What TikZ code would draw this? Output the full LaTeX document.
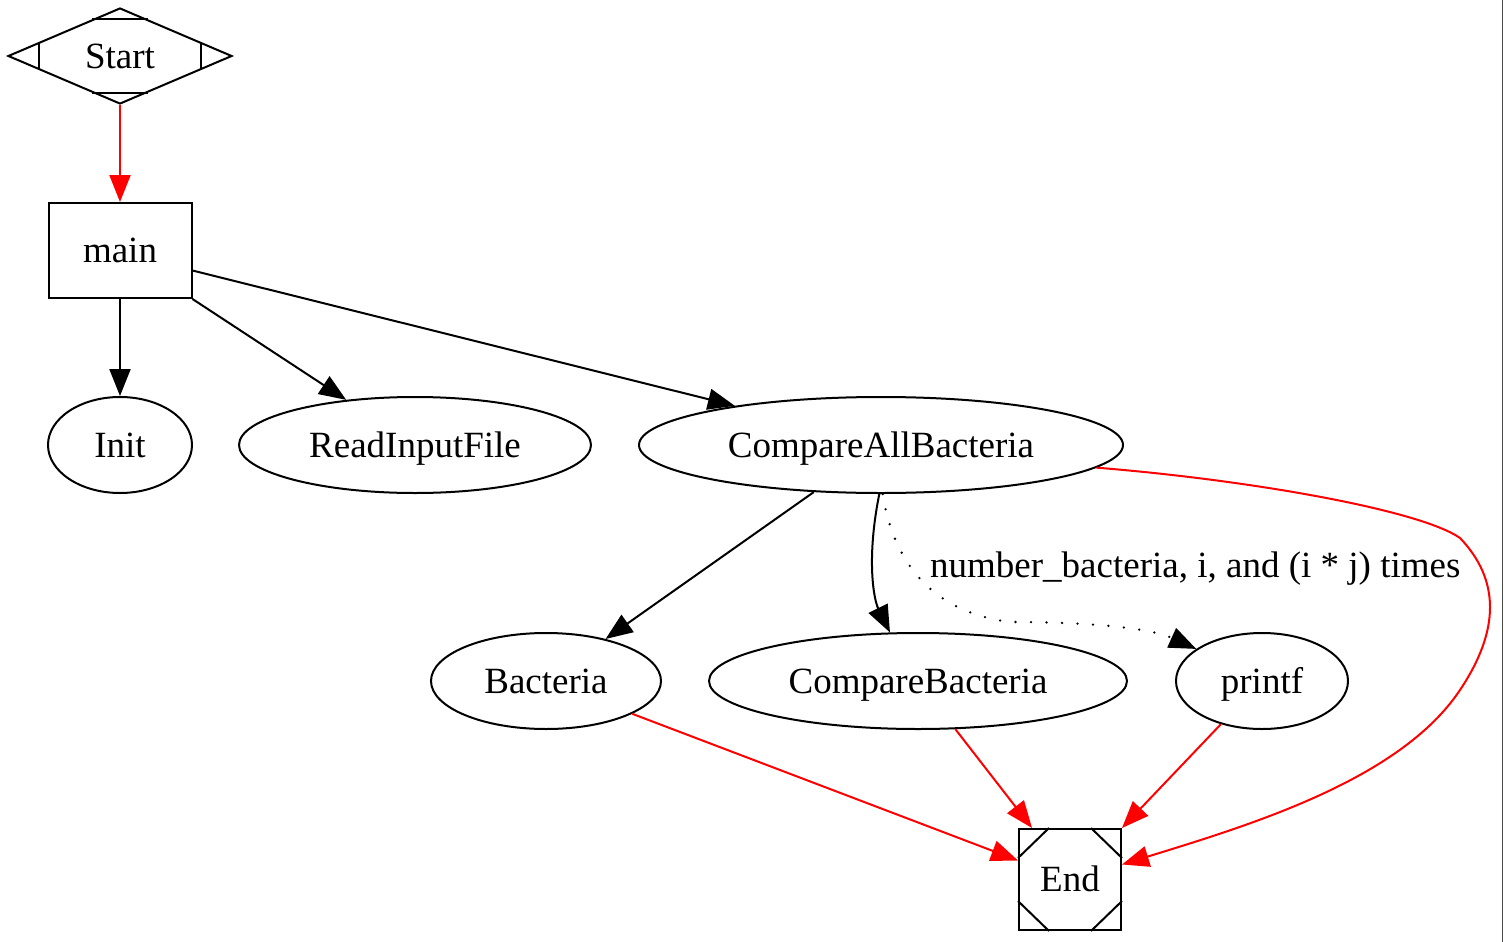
\documentclass[tikz,border=0pt]{standalone}
\usepackage{fontspec}
\setmainfont{Liberation Serif}
\usetikzlibrary{shapes.geometric,arrows.meta,calc}
\begin{document}
\begin{tikzpicture}[x=1pt,y=-1pt,
  every node/.style={font=\fontsize{37}{44}\selectfont, inner sep=0pt},
  shapetext/.style={text height=24.5pt, text depth=0pt},
  ell/.style={ellipse, draw, line width=2pt, minimum height=96pt, shapetext},
  box/.style={rectangle, draw, line width=2pt, shapetext},
  thinline/.style={line width=2pt},
  conn/.style={line width=2pt, -{Triangle[length=27pt,width=21pt]}},
  redconn/.style={conn, red},
  dotconn/.style={conn, dash pattern=on 0pt off 15.5pt, line cap=round, line width=2.6pt}
]
\useasboundingbox (0,0) rectangle (1504,942);
\draw[black!70, line width=1.5pt] (1502.5,0) -- (1502.5,942);

% nodes
\node[diamond, draw, line width=2pt, minimum width=224pt, minimum height=96pt, aspect=2.33, shapetext] (start) at (120,56) {Start};
\draw[thinline] ($(start.north)+(-28,12)$) -- ($(start.north)+(28,12)$);
\draw[thinline] ($(start.south)+(-28,-12)$) -- ($(start.south)+(28,-12)$);
\draw[thinline] ($(start.west)+(32,-14)$) -- ($(start.west)+(32,14)$);
\draw[thinline] ($(start.east)+(-32,-14)$) -- ($(start.east)+(-32,14)$);

\node[box, minimum width=143pt, minimum height=95pt] (main) at (120,250.5) {main};

\node[ell, minimum width=144pt] (init) at (120,445) {Init};
\node[ell, minimum width=352pt] (rif) at (415,445) {ReadInputFile};
\node[ell, minimum width=484pt] (cab) at (881,445) {CompareAllBacteria};

\node[ell, minimum width=230pt] (bac) at (546,681) {Bacteria};
\node[ell, minimum width=418pt] (cmp) at (918,681) {CompareBacteria};
\node[ell, minimum width=172pt] (prf) at (1262,681) {printf};

\node[box, minimum width=102pt, minimum height=101pt] (end) at (1070,879.5) {End};
\draw[thinline] ($(end.north west)+(0,30)$) -- ($(end.north west)+(31,0)$);
\draw[thinline] ($(end.north east)+(0,30)$) -- ($(end.north east)+(-31,0)$);
\draw[thinline] ($(end.south west)+(0,-30)$) -- ($(end.south west)+(31,0)$);
\draw[thinline] ($(end.south east)+(0,-30)$) -- ($(end.south east)+(-31,0)$);

% edges
\draw[redconn] (start) -- (main);
\draw[conn] (main) -- (init);
\draw[conn] (main.south east) -- (rif);
\draw[conn] ([yshift=-20pt]main.east) -- (cab.165);

\draw[conn] (cab.215) -- (bac);
\draw[conn] (cab.268) .. controls (866,560) and (874,600) .. (cmp.120);
\draw[dotconn] (cab.272) .. controls (893,560) and (930,612) .. (1010,622)
   .. controls (1090,622) and (1150,628) .. (prf.154);
\node[anchor=base west] (lbl) at (930,577) {number\_bacteria, i, and (i * j) times};

\draw[redconn] (cab.354) .. controls (1250,480) and (1420,510) .. (1460,538)
   .. controls (1500,580) and (1500,630) .. (1460,690)
   .. controls (1400,780) and (1250,825) .. ([yshift=15pt]end.east);
\draw[redconn] (prf) -- (end.north east);
\draw[redconn] (cmp) -- ([xshift=-38pt]end.north);
\draw[redconn] (bac) -- ([yshift=19pt]end.west);
\end{tikzpicture}
\end{document}
